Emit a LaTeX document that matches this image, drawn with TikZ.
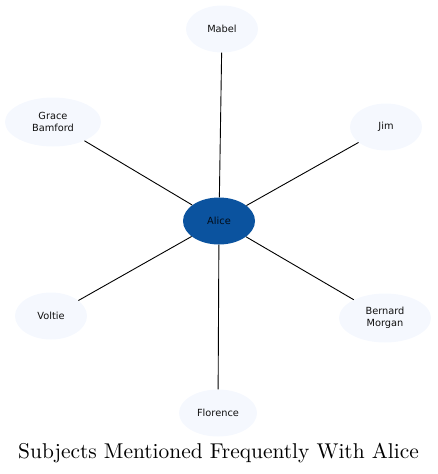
\documentclass[tikz,border=0pt]{standalone}
\usepackage{fontspec}
\newfontfamily\nodefont{DejaVu Sans}
\newfontfamily\titlefont{lmroman10-regular}[Extension=.otf]
\usetikzlibrary{shapes.geometric}
\definecolor{hub}{HTML}{0B539F}
\definecolor{leaf}{HTML}{F5F8FE}
\definecolor{ink}{HTML}{111111}
\begin{document}
\begin{tikzpicture}[
  x=1pt, y=-1pt,
  %===========================================================
  % Node styles
  %===========================================================
  person/.style={
    ellipse,
    fill=leaf,
    draw=none,
    align=center,
    inner sep=0pt,
    minimum width=72pt,
    minimum height=47pt,
    font=\nodefont\fontsize{9.8}{11.5}\selectfont,
    text=ink
  },
  centre/.style={person, fill=hub, text=black!85!hub},
  %===========================================================
  % Connectors
  %===========================================================
  link/.style={
    draw=black,
    line width=0.9pt
  },
  title/.style={
    font=\titlefont\fontsize{21.4}{25}\selectfont,
    text=black
  }
]
  \useasboundingbox (0,0) rectangle (437,474);

  %====================================================================
  % Hub and the people around it
  %====================================================================
  \node[centre] (alice)    at (219,221) {Alice};
  \node[person] (mabel)    at (222, 29) {Mabel};
  \node[person, minimum width=96pt, minimum height=49pt]
                (grace)    at ( 53,122) {Grace\\Bamford};
  \node[person] (jim)      at (386,127) {Jim};
  \node[person] (voltie)   at ( 51,316) {Voltie};
  \node[person, minimum width=92pt, minimum height=49pt]
                (bernard)  at (385,318) {Bernard\\Morgan};
  \node[person, minimum width=78pt]
                (florence) at (218,413) {Florence};

  %====================================================================
  % Spokes
  %====================================================================
  \draw[link] (alice) -- (mabel);
  \draw[link] (alice) -- (grace);
  \draw[link] (alice) -- (jim);
  \draw[link] (alice) -- (voltie);
  \draw[link] (alice) -- (bernard);
  \draw[link] (alice) -- (florence);

  %====================================================================
  % Caption
  %====================================================================
  \node[title] (caption) at (218.5,453) {Subjects Mentioned Frequently With Alice};

\end{tikzpicture}
\end{document}
